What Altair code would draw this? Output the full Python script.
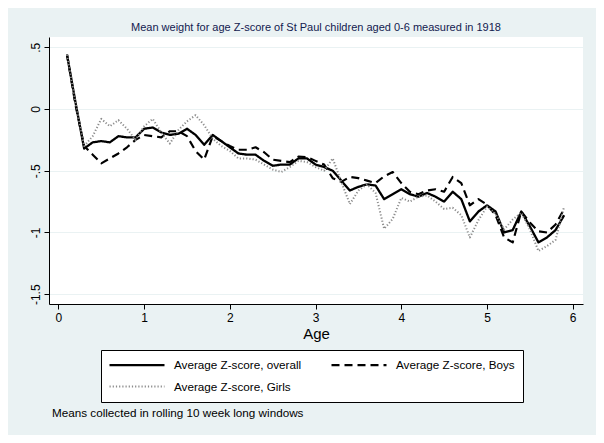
import altair as alt
import pandas as pd

TITLE = "Mean weight for age Z-score of St Paul children aged 0-6 measured in 1918"
NOTE = "Means collected in rolling 10 week long windows"
SERIES = ["Average Z-score, overall", "Average Z-score, Boys", "Average Z-score, Girls"]

AGE = [0.1, 0.2, 0.3, 0.4, 0.5, 0.6, 0.7, 0.8, 0.9, 1.0,
       1.1, 1.2, 1.3, 1.4, 1.5, 1.6, 1.7, 1.8, 1.9, 2.0,
       2.1, 2.2, 2.3, 2.4, 2.5, 2.6, 2.7, 2.8, 2.9, 3.0,
       3.1, 3.2, 3.3, 3.4, 3.5, 3.6, 3.7, 3.8, 3.9, 4.0,
       4.1, 4.2, 4.3, 4.4, 4.5, 4.6, 4.7, 4.8, 4.9, 5.0,
       5.1, 5.2, 5.3, 5.4, 5.5, 5.6, 5.7, 5.8, 5.9]

OVERALL = [0.44, 0.05, -0.32, -0.27, -0.26, -0.27, -0.22, -0.23, -0.23, -0.16,
           -0.15, -0.19, -0.21, -0.20, -0.16, -0.21, -0.29, -0.21, -0.26, -0.31,
           -0.36, -0.37, -0.37, -0.42, -0.46, -0.45, -0.45, -0.40, -0.40, -0.45,
           -0.47, -0.50, -0.58, -0.66, -0.63, -0.61, -0.62, -0.73, -0.69, -0.65,
           -0.69, -0.71, -0.68, -0.71, -0.75, -0.67, -0.73, -0.91, -0.83, -0.78,
           -0.83, -1.00, -0.98, -0.83, -0.95, -1.08, -1.04, -0.98, -0.86]

BOYS = [0.44, 0.03, -0.30, -0.37, -0.44, -0.40, -0.36, -0.31, -0.25, -0.21,
        -0.22, -0.23, -0.18, -0.18, -0.22, -0.34, -0.41, -0.22, -0.26, -0.30,
        -0.33, -0.33, -0.31, -0.35, -0.41, -0.42, -0.43, -0.385, -0.39, -0.42,
        -0.45, -0.56, -0.59, -0.55, -0.56, -0.58, -0.60, -0.545, -0.51, -0.60,
        -0.67, -0.69, -0.66, -0.65, -0.67, -0.55, -0.60, -0.78, -0.73, -0.775,
        -0.86, -1.04, -1.08, -0.83, -0.92, -0.99, -1.00, -0.935, -0.81]

GIRLS = [0.44, 0.05, -0.30, -0.22, -0.08, -0.14, -0.09, -0.16, -0.25, -0.14,
         -0.08, -0.19, -0.28, -0.17, -0.10, -0.05, -0.13, -0.24, -0.30, -0.34,
         -0.40, -0.40, -0.41, -0.45, -0.49, -0.51, -0.47, -0.42, -0.43, -0.47,
         -0.50, -0.40, -0.59, -0.77, -0.66, -0.61, -0.68, -0.97, -0.89, -0.72,
         -0.75, -0.71, -0.70, -0.75, -0.81, -0.80, -0.86, -1.04, -0.90, -0.79,
         -0.85, -0.975, -0.895, -0.84, -0.975, -1.15, -1.11, -1.06, -0.79]

X_TICKS = [0, 1, 2, 3, 4, 5, 6]
Y_TICKS = [0.5, 0, -0.5, -1, -1.5]
Y_LABELS = [".5", "0", "-.5", "-1", "-1.5"]

rows = []
for name, vals in zip(SERIES, [OVERALL, BOYS, GIRLS]):
    for a, v in zip(AGE, vals):
        rows.append({"age": a, "z": v, "series": name})
df = pd.DataFrame(rows)

label_expr = " : ".join(
    f"datum.value == {v} ? '{l}'" for v, l in zip(Y_TICKS, Y_LABELS)
) + " : ''"

FONT = "Liberation Sans"

lines = alt.Chart(df).mark_line(strokeJoin="round").encode(
    x=alt.X("age:Q",
            scale=alt.Scale(domain=[-0.11, 6.12], nice=False, zero=False),
            axis=alt.Axis(values=X_TICKS, title="Age", grid=False, format="d",
                          labelFontSize=12, titleFontSize=15, titlePadding=3,
                          tickSize=5, labelPadding=3.5)),
    y=alt.Y("z:Q",
            scale=alt.Scale(domain=[-1.579, 0.583], nice=False, zero=False),
            axis=alt.Axis(values=Y_TICKS, title=None, grid=True, labelExpr=label_expr,
                          labelAngle=270, labelAlign="center", labelBaseline="bottom",
                          labelFontSize=12, tickSize=5, labelPadding=2)),
    color=alt.Color("series:N", title=None,
                    scale=alt.Scale(domain=SERIES, range=["#000000", "#000000", "#8c8c8c"]),
                    legend=alt.Legend(orient="none", legendX=52, legendY=313, columns=2,
                                      direction="horizontal")),
    strokeDash=alt.StrokeDash("series:N", title=None,
                              scale=alt.Scale(domain=SERIES, range=[[1, 0], [8, 5], [1.2, 2]])),
    strokeWidth=alt.StrokeWidth("series:N", title=None,
                                scale=alt.Scale(domain=SERIES, range=[2.3, 2.0, 1.3])),
)

note = alt.Chart(pd.DataFrame({"note": [NOTE]})).mark_text(
    align="left", baseline="middle", font=FONT, fontSize=11.7, color="#000000"
).encode(text="note:N", x=alt.value(3), y=alt.value(376))

chart = alt.layer(lines, note).properties(
    width=534,
    height=267,
    title=alt.TitleParams(TITLE, fontSize=11, font=FONT, fontWeight="normal",
                          color="#12204f", anchor="middle", frame="group", offset=4),
    background="#EAF2F3",
    padding={"left": 41, "top": 29, "right": 13, "bottom": 131},
    autosize=alt.AutoSizeParams(type="none"),
).configure_view(fill="white", stroke=None).configure_axis(
    labelFont=FONT, titleFont=FONT, labelColor="#000000", titleColor="#000000",
    titleFontWeight="normal", domainColor="#000000", tickColor="#000000",
    gridColor="#EAF2F3", gridWidth=1,
).configure_legend(
    strokeColor="#000000", fillColor="#ffffff", padding=8, cornerRadius=0,
    symbolType="M-5,0H5", symbolSize=121, symbolOffset=21, labelOffset=30,
    rowPadding=8, columnPadding=25, labelFont=FONT, labelFontSize=11.7,
    labelColor="#000000", labelLimit=300,
)

chart.save("out.html", embed_options={"renderer": "svg", "actions": False})
